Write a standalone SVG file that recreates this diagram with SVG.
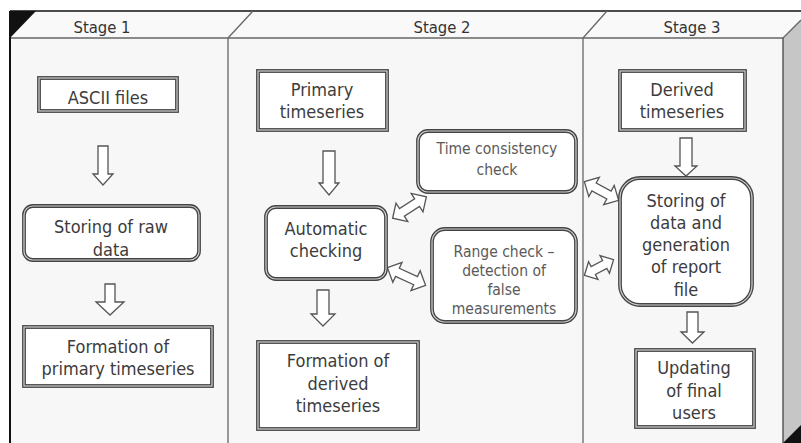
<svg xmlns="http://www.w3.org/2000/svg" width="801" height="443" viewBox="0 0 801 443">
<defs>
<style>
.frame{fill:none;stroke:#666;stroke-width:1.3}
.bx{fill:#fff;stroke:#444;stroke-width:3.8}
.bxi{fill:none;stroke:#cfcfcf;stroke-width:1.2}
.t{font-family:"DejaVu Sans Condensed","DejaVu Sans",sans-serif;font-size:18px;fill:#3c3c3c;text-anchor:middle}
.tl{font-family:"DejaVu Sans Condensed","DejaVu Sans",sans-serif;font-size:15.5px;fill:#5a5a5a;text-anchor:middle}
.st{font-family:"DejaVu Sans Condensed","DejaVu Sans",sans-serif;font-size:16.5px;fill:#333;text-anchor:middle}
.ar{fill:#fff;stroke:#555;stroke-width:1.3;stroke-linejoin:miter}
</style>
</defs>
<rect width="801" height="443" fill="#fff"/>
<g id="frame">
<polygon points="10,11 801,11 801,20 783,38 10,38" fill="#f9f9f9"/>
<rect x="10" y="38" width="773" height="405" fill="#f7f7f7"/>
<polygon points="783,38 801,20 801,443 783,443" fill="#c6c6c6"/>
<line x1="10" y1="11" x2="801" y2="11" stroke="#111" stroke-width="1.5"/>
<line x1="10" y1="38" x2="783" y2="38" class="frame"/>
<line x1="783" y1="38" x2="801" y2="20" class="frame"/>
<line x1="783" y1="38" x2="783" y2="443" stroke="#444" stroke-width="1.3"/>
<line x1="228" y1="38" x2="253" y2="11" class="frame"/>
<line x1="228" y1="38" x2="228" y2="443" class="frame"/>
<line x1="583" y1="38" x2="607" y2="11" class="frame"/>
<line x1="583" y1="38" x2="583" y2="443" class="frame"/>
<line x1="10" y1="11" x2="10" y2="443" stroke="#111" stroke-width="2"/>
<polygon points="10,11 36,11 10,38" fill="#111"/>
<polygon points="783,443 801,443 801,425" fill="#111"/>
<text class="st" x="102" y="33">Stage 1</text>
<text class="st" x="442" y="33">Stage 2</text>
<text class="st" x="692" y="33">Stage 3</text>
</g>
<g id="connectors">
<path class="ar" d="M98,146 H108 V174 H113 L103,185 L93,174 H98 Z"/>
<path class="ar" d="M105,284 H115 V302 H124 L110,315 L96,302 H105 Z"/>
<path class="ar" d="M323,151 H335 V183 H339 L329,195 L319,183 H323 Z"/>
<path class="ar" d="M317,290 H329 V314 H335 L323,326 L311,314 H317 Z"/>
<path class="ar" d="M680,138 H692 V166 H697 L686,176 L675,166 H680 Z"/>
<path class="ar" d="M687,312 H698 V332 H704 L692.5,343 L681,332 H687 Z"/>
<path class="ar" transform="translate(409.5,207.5) rotate(-32.5)" d="M-20,0 L-9,-11 L-9,-4.5 L9,-4.5 L9,-11 L20,0 L9,11 L9,4.5 L-9,4.5 L-9,11 Z"/>
<path class="ar" transform="translate(406.5,276.5) rotate(24.7)" d="M-21,0 L-10,-11 L-10,-4.5 L10,-4.5 L10,-11 L21,0 L10,11 L10,4.5 L-10,4.5 L-10,11 Z"/>
<path class="ar" transform="translate(601.5,191) rotate(28.6)" d="M-19.5,0 L-8.5,-11 L-8.5,-4.5 L8.5,-4.5 L8.5,-11 L19.5,0 L8.5,11 L8.5,4.5 L-8.5,4.5 L-8.5,11 Z"/>
<path class="ar" transform="translate(599,267.5) rotate(-28.2)" d="M-16.5,0 L-6.5,-10 L-6.5,-4.5 L6.5,-4.5 L6.5,-10 L16.5,0 L6.5,10 L6.5,4.5 L-6.5,4.5 L-6.5,10 Z"/>
</g>
<g id="ascii">
<rect class="bx" x="39" y="78" width="138" height="33"/>
<rect class="bxi" x="39" y="78" width="138" height="33"/>
<text class="t" x="108" y="104">ASCII files</text>
</g>
<g id="storing-raw">
<rect class="bx" x="24" y="206" width="175" height="54" rx="9"/>
<rect class="bxi" x="24" y="206" width="175" height="54" rx="9"/>
<text class="t" x="111" y="233">Storing of raw</text>
<text class="t" x="111" y="256">data</text>
</g>
<g id="formation-primary">
<rect class="bx" x="24" y="327" width="188" height="59"/>
<rect class="bxi" x="24" y="327" width="188" height="59"/>
<text class="t" x="118" y="353">Formation of</text>
<text class="t" x="118" y="375">primary timeseries</text>
</g>
<g id="primary">
<rect class="bx" x="258" y="71" width="129" height="59"/>
<rect class="bxi" x="258" y="71" width="129" height="59"/>
<text class="t" x="322" y="96">Primary</text>
<text class="t" x="322" y="118">timeseries</text>
</g>
<g id="automatic">
<rect class="bx" x="266" y="207" width="120" height="72" rx="10"/>
<rect class="bxi" x="266" y="207" width="120" height="72" rx="10"/>
<text class="t" x="326" y="235">Automatic</text>
<text class="t" x="326" y="257">checking</text>
</g>
<g id="formation-derived">
<rect class="bx" x="258" y="342" width="160" height="87"/>
<rect class="bxi" x="258" y="342" width="160" height="87"/>
<text class="t" x="338" y="367">Formation of</text>
<text class="t" x="338" y="390">derived</text>
<text class="t" x="338" y="412">timeseries</text>
</g>
<g id="time-consistency">
<rect class="bx" x="418" y="131" width="158" height="61" rx="10"/>
<rect class="bxi" x="418" y="131" width="158" height="61" rx="10"/>
<text class="tl" x="497" y="154">Time consistency</text>
<text class="tl" x="497" y="175">check</text>
</g>
<g id="range-check">
<rect class="bx" x="432" y="229" width="144" height="93" rx="13"/>
<rect class="bxi" x="432" y="229" width="144" height="93" rx="13"/>
<text class="tl" x="504" y="257">Range check –</text>
<text class="tl" x="504" y="276">detection of</text>
<text class="tl" x="504" y="295">false</text>
<text class="tl" x="504" y="314">measurements</text>
</g>
<g id="derived">
<rect class="bx" x="620" y="71" width="125" height="59"/>
<rect class="bxi" x="620" y="71" width="125" height="59"/>
<text class="t" x="682" y="96">Derived</text>
<text class="t" x="682" y="118">timeseries</text>
</g>
<g id="storing-data">
<rect class="bx" x="620" y="178" width="132" height="127" rx="20"/>
<rect class="bxi" x="620" y="178" width="132" height="127" rx="20"/>
<text class="t" x="686" y="207">Storing of</text>
<text class="t" x="686" y="229">data and</text>
<text class="t" x="686" y="251">generation</text>
<text class="t" x="686" y="273">of report</text>
<text class="t" x="686" y="296">file</text>
</g>
<g id="updating">
<rect class="bx" x="636" y="350" width="118" height="77"/>
<rect class="bxi" x="636" y="350" width="118" height="77"/>
<text class="t" x="694" y="374">Updating</text>
<text class="t" x="694" y="397">of final</text>
<text class="t" x="694" y="419">users</text>
</g>
</svg>
